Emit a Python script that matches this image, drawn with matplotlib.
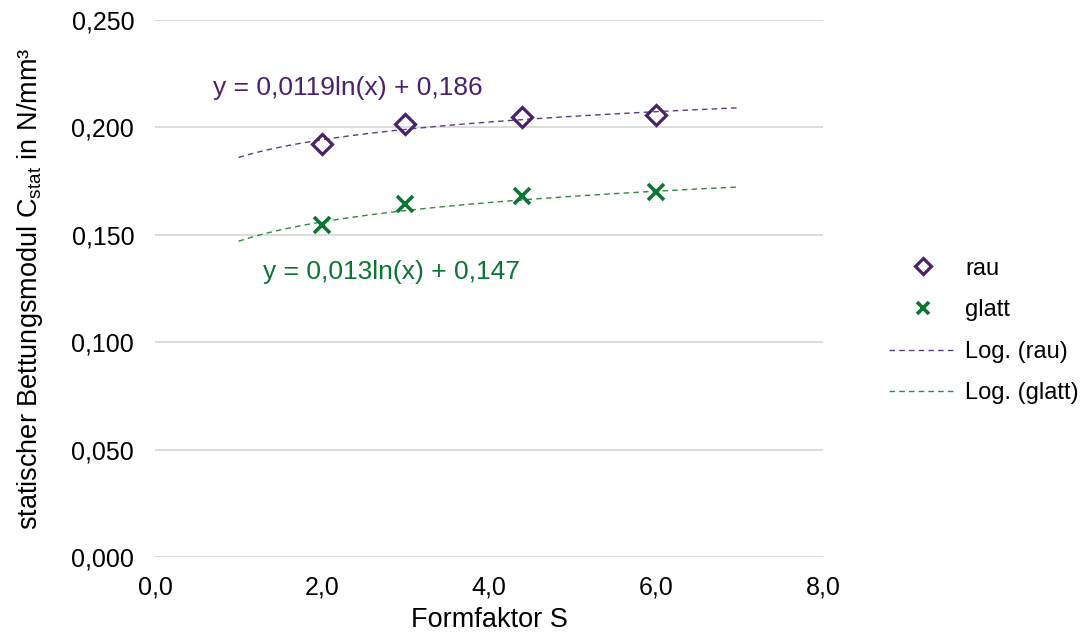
import numpy as np
import matplotlib
matplotlib.use('Agg')
import matplotlib.pyplot as plt
import matplotlib.ticker as mticker

plt.rcParams['font.family'] = ['Liberation Sans', 'DejaVu Sans']

# Messwerte
formfaktor = [2.0, 3.0, 4.4, 6.0]
c_rau = [0.1925, 0.2014, 0.2047, 0.2056]
c_glatt = [0.1547, 0.1645, 0.1682, 0.1701]

# Koeffizienten der log. Trendlinien (a*ln(x) + b)
fit_rau = (0.0119, 0.186)
fit_glatt = (0.013, 0.147)
trend_range = (1.0, 7.0)

x_ticks = [0, 2, 4, 6, 8]
y_ticks = [0.0, 0.05, 0.10, 0.15, 0.20, 0.25]

col_rau = '#4B216C'
col_glatt = '#0B7535'
col_rau_line = '#5E3C82'
col_glatt_line = '#2E8B3E'

fig = plt.figure(figsize=(10.87, 6.39), dpi=100)
ax = fig.add_axes([0.1426, 0.1283, 0.6145, 0.8404])

xs = np.linspace(trend_range[0], trend_range[1], 200)

ax.plot(formfaktor, c_rau, linestyle='none', marker='D', markersize=10.5,
        markerfacecolor='none', markeredgecolor=col_rau, markeredgewidth=2.3,
        label='rau', zorder=4)
ax.plot(formfaktor, c_glatt, linestyle='none', marker='x', markersize=12,
        markeredgecolor=col_glatt, markeredgewidth=2.6, label='glatt', zorder=4)
ax.plot(xs, fit_rau[0] * np.log(xs) + fit_rau[1], linestyle=(0, (4, 3)),
        linewidth=1.0, color=col_rau_line, label='Log. (rau)', zorder=3)
ax.plot(xs, fit_glatt[0] * np.log(xs) + fit_glatt[1], linestyle=(0, (4, 3)),
        linewidth=1.0, color=col_glatt_line, label='Log. (glatt)', zorder=3)

# Gleichungen der Trendlinien
ax.text(0.695, 0.2183, 'y = 0,0119ln(x) + 0,186', color=col_rau,
        fontsize=19, va='center', ha='left')
ax.text(1.293, 0.1327, 'y = 0,013ln(x) + 0,147', color=col_glatt,
        fontsize=19, va='center', ha='left')

ax.set_xlim(0, 8)
ax.set_ylim(0, 0.25)
ax.set_xticks(x_ticks)
ax.set_yticks(y_ticks)
ax.xaxis.set_major_formatter(mticker.FuncFormatter(lambda v, p: f'{v:.1f}'.replace('.', ',')))
ax.yaxis.set_major_formatter(mticker.FuncFormatter(lambda v, p: f'{v:.3f}'.replace('.', ',')))

ax.grid(axis='y', color='#D9D9D9', linewidth=1.3)
ax.set_axisbelow(True)
for s in ax.spines.values():
    s.set_visible(False)
ax.tick_params(length=0, labelsize=18, colors='#000000')
ax.tick_params(axis='y', pad=15)
ax.tick_params(axis='x', pad=13)

ax.set_xlabel('Formfaktor S', fontsize=19.5, va='center')
ax.set_ylabel(r'statischer Bettungsmodul C$_{\mathregular{stat}}$ in N/mm³',
              fontsize=19.5, va='center')
ax.xaxis.set_label_coords(0.5, -0.117)
ax.yaxis.set_label_coords(-0.187, 0.5)

fig.legend(loc='center left', bbox_to_anchor=(0.8175, 0.482), frameon=False,
           fontsize=17, handlelength=2.9, handletextpad=0.35, labelspacing=0.83,
           borderaxespad=0, borderpad=0, markerscale=0.75)

fig.savefig('out.png', dpi=100)
